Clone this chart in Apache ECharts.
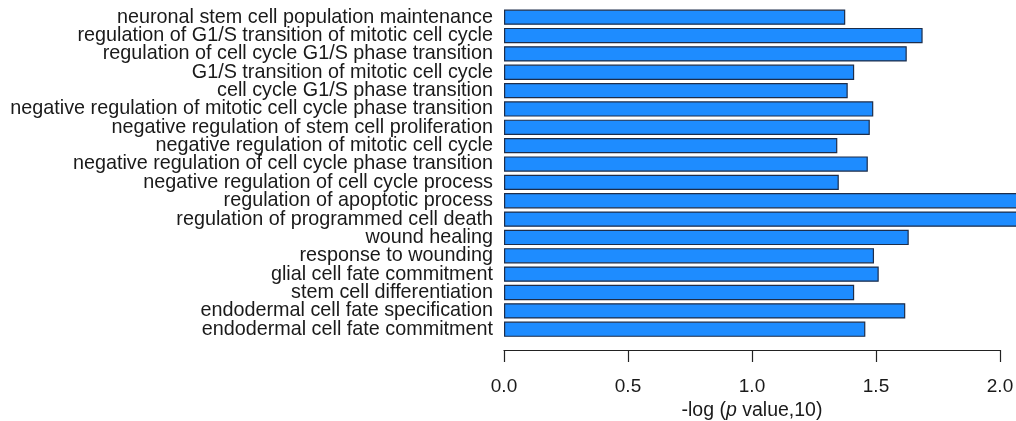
<!DOCTYPE html>
<html>
<head>
<meta charset="utf-8">
<script src="https://cdn.jsdelivr.net/npm/echarts@6/dist/echarts.min.js"></script>
<style>
html,body{margin:0;padding:0;background:#fff;}
#chart{width:1016px;height:421px;}
</style>
</head>
<body>
<div id="chart"></div>
<script>
const categories = [
  "neuronal stem cell population maintenance",
  "regulation of G1/S transition of mitotic cell cycle",
  "regulation of cell cycle G1/S phase transition",
  "G1/S transition of mitotic cell cycle",
  "cell cycle G1/S phase transition",
  "negative regulation of mitotic cell cycle phase transition",
  "negative regulation of stem cell proliferation",
  "negative regulation of mitotic cell cycle",
  "negative regulation of cell cycle phase transition",
  "negative regulation of cell cycle process",
  "regulation of apoptotic process",
  "regulation of programmed cell death",
  "wound healing",
  "response to wounding",
  "glial cell fate commitment",
  "stem cell differentiation",
  "endodermal cell fate specification",
  "endodermal cell fate commitment"
];
const values = [1.376, 1.688, 1.624, 1.412, 1.386, 1.489, 1.475, 1.344, 1.467, 1.350,
                2.30, 2.30, 1.632, 1.492, 1.511, 1.412, 1.618, 1.457];
const xTicks = [0, 0.5, 1.0, 1.5, 2.0];

const font = "'Liberation Sans', Arial, Helvetica, sans-serif";
const chart = echarts.init(document.getElementById('chart'), null, {renderer: 'canvas'});
chart.setOption({
  animation: false,
  backgroundColor: '#ffffff',
  grid: {left: 504, width: 496, top: 8, height: 330.4, containLabel: false, outerBoundsMode: 'none'},
  xAxis: {
    type: 'value',
    min: xTicks[0], max: xTicks[xTicks.length - 1], interval: 0.5,
    offset: 11.6,
    axisLine: {show: true, lineStyle: {color: '#222', width: 1.2}},
    axisTick: {show: true, length: 12, inside: false, lineStyle: {color: '#222', width: 1.2}},
    splitLine: {show: false},
    axisLabel: {
      margin: 27, fontSize: 19, color: '#1a1a1a', fontFamily: font,
      formatter: v => v.toFixed(1)
    },
    name: '{a|-log (}{b|p}{a| value,10)}',
    nameLocation: 'middle',
    nameGap: 50,
    nameTextStyle: {
      rich: {
        a: {fontSize: 19.5, color: '#1a1a1a', fontFamily: font},
        b: {fontSize: 19.5, color: '#1a1a1a', fontFamily: font, fontStyle: 'italic'}
      }
    }
  },
  yAxis: {
    type: 'category',
    data: categories,
    inverse: true,
    axisLine: {show: false},
    axisTick: {show: false},
    axisLabel: {interval: 0, margin: 11, fontSize: 19.8, color: '#1a1a1a', fontFamily: font}
  },
  series: [{
    type: 'bar',
    data: values,
    clip: false,
    barCategoryGap: '16.7%',
    itemStyle: {color: '#1E8CFF', borderColor: '#1d2d4a', borderWidth: 1.2}
  }]
});
</script>
</body>
</html>
